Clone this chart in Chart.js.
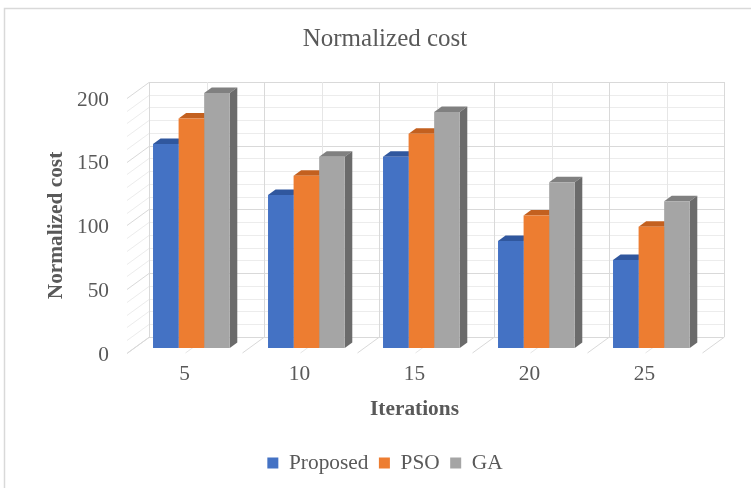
<!DOCTYPE html>
<html>
<head>
<meta charset="utf-8">
<title>Normalized cost</title>
<script src="https://cdn.jsdelivr.net/npm/chart.js@4/dist/chart.umd.min.js"></script>
<style>
  html, body { margin: 0; padding: 0; background: #ffffff; }
  canvas { display: block; }
</style>
</head>
<body>
<canvas id="chart" width="751" height="488"></canvas>
<script>
// ---- data ----
const iterations = ['5', '10', '15', '20', '25'];
const proposed   = [160, 120, 150, 84, 69];
const pso        = [180, 135, 168, 104, 95];
const ga         = [200, 150, 185, 130, 115];
const valueTicks = [0, 50, 100, 150, 200];

// ---- look ----
const SERIF = "'Liberation Serif', 'Times New Roman', serif";
const TEXT = '#595959';
const FACE = {
  Proposed: { front: '#4472C4', top: '#30579E', side: '#2F5290' },
  PSO:      { front: '#ED7D31', top: '#C3601F', side: '#AE5A21' },
  GA:       { front: '#A5A5A5', top: '#808080', side: '#6B6B6B' }
};

// oblique projection: a point pushed back by d pixels moves up d and right K*d
const K = 1.375;
const WALL_DEPTH = 16;   // floor front edge -> back wall
const BAR_FRONT = 5;     // floor front edge -> bar front faces
const BAR_DEPTH = 5.5;   // thickness of each column
const back = (x, y, d) => [x + K * d, y - d];

function seg(ctx, p, q) {
  ctx.beginPath();
  ctx.moveTo(p[0], p[1]);
  ctx.lineTo(q[0], q[1]);
  ctx.stroke();
}
function poly(ctx, pts, fill) {
  ctx.beginPath();
  ctx.moveTo(pts[0][0], pts[0][1]);
  for (let i = 1; i < pts.length; i++) ctx.lineTo(pts[i][0], pts[i][1]);
  ctx.closePath();
  ctx.fillStyle = fill;
  ctx.fill();
}

const box3d = {
  id: 'box3d',
  beforeDraw(chart) {
    const ctx = chart.ctx;
    ctx.save();
    ctx.fillStyle = '#ffffff';
    ctx.fillRect(0, 0, chart.width, chart.height);
    ctx.strokeStyle = '#D9D9D9';
    ctx.lineWidth = 1.5;
    ctx.strokeRect(4.5, 8.5, chart.width + 20, chart.height + 20);
    ctx.restore();
  },
  beforeDatasetsDraw(chart) {
    const { ctx, chartArea: a, scales } = chart;
    const x = scales.x, y = scales.y;
    ctx.save();
    ctx.lineWidth = 1;

    // value lines: left wall and back wall
    for (let v = y.min; v <= y.max; v += 10) {
      const py = Math.round(y.getPixelForValue(v)) + 0.5;
      ctx.strokeStyle = v % 50 === 0 ? '#D9D9D9' : '#ECECEC';
      seg(ctx, [a.left, py], back(a.left, py, WALL_DEPTH));
      seg(ctx, back(a.left, py, WALL_DEPTH), back(a.right, py, WALL_DEPTH));
    }

    // category lines: floor and back wall
    const step = x.getPixelForValue(1) - x.getPixelForValue(0);
    const n = iterations.length;
    for (let i = 0; i <= 2 * n; i++) {
      const px = Math.round(x.getPixelForValue(0) - step / 2 + i * step / 2) + 0.5;
      ctx.strokeStyle = i % 2 === 0 ? '#D9D9D9' : '#E6E6E6';
      seg(ctx, [px, a.bottom], back(px, a.bottom, WALL_DEPTH));
      seg(ctx, back(px, a.bottom, WALL_DEPTH), back(px, a.top, WALL_DEPTH));
    }
    ctx.restore();

    // columns sit a little behind the floor front edge
    ctx.save();
    ctx.translate(K * BAR_FRONT, -BAR_FRONT);
    chart.data.datasets.forEach((ds, di) => {
      const shade = FACE[ds.label];
      chart.getDatasetMeta(di).data.forEach(bar => {
        const p = bar.getProps(['x', 'y', 'base', 'width'], true);
        const x0 = p.x - p.width / 2, x1 = p.x + p.width / 2;
        poly(ctx, [[x0, p.y], [x1, p.y], back(x1, p.y, BAR_DEPTH), back(x0, p.y, BAR_DEPTH)], shade.top);
        poly(ctx, [[x1, p.y], back(x1, p.y, BAR_DEPTH), back(x1, p.base, BAR_DEPTH), [x1, p.base]], shade.side);
      });
    });
    // front faces are drawn by Chart.js inside this translation
  },
  afterDatasetsDraw(chart) {
    chart.ctx.restore();
  }
};

const series = [
  { label: 'Proposed', data: proposed },
  { label: 'PSO', data: pso },
  { label: 'GA', data: ga }
];

new Chart(document.getElementById('chart'), {
  type: 'bar',
  data: {
    labels: iterations,
    datasets: series.map(s => ({
      label: s.label,
      data: s.data,
      yAxisID: 'y',
      backgroundColor: FACE[s.label].front,
      borderWidth: 0,
      categoryPercentage: 0.667,
      barPercentage: 1.0,
      clip: false
    }))
  },
  options: {
    responsive: false,
    animation: false,
    devicePixelRatio: 1,
    layout: { padding: { top: 0, left: 44, right: 25, bottom: 4.4 } },
    plugins: {
      tooltip: { enabled: false },
      title: {
        display: true,
        text: 'Normalized cost',
        color: TEXT,
        font: { family: SERIF, size: 25, weight: 'normal' },
        padding: { top: 24, bottom: 44 }
      },
      legend: {
        position: 'bottom',
        labels: {
          color: TEXT,
          font: { family: SERIF, size: 21.33 },
          boxWidth: 11,
          boxHeight: 11,
          padding: 10.5
        }
      }
    },
    scales: {
      x: {
        grid: { display: false, drawTicks: false, tickLength: 0 },
        border: { display: false },
        ticks: { color: TEXT, font: { family: SERIF, size: 21.33 }, padding: 9, maxRotation: 0 },
        title: {
          display: true,
          text: 'Iterations',
          color: TEXT,
          font: { family: SERIF, size: 21.33, weight: 'bold' },
          padding: { top: 0, bottom: 19.6 }
        }
      },
      y: {
        min: 0,
        max: 200,
        afterBuildTicks(scale) { scale.ticks = valueTicks.map(v => ({ value: v })); },
        grid: { display: false, drawTicks: false, tickLength: 0 },
        border: { display: false },
        ticks: { color: TEXT, font: { family: SERIF, size: 21.33 }, padding: 18, labelOffset: 2 },
        title: {
          display: true,
          text: 'Normalized cost',
          color: TEXT,
          font: { family: SERIF, size: 21.33, weight: 'bold' },
          padding: { top: 0, bottom: 0 }
        },
        afterFit(scale) { scale.width = 83; }
      },
      gutter: {
        position: 'right',
        min: 0,
        max: 200,
        grid: { display: false, drawTicks: false, tickLength: 0 },
        border: { display: false },
        ticks: { display: false },
        afterFit(scale) { scale.width = 24; }
      }
    }
  },
  plugins: [box3d]
});
</script>
</body>
</html>
